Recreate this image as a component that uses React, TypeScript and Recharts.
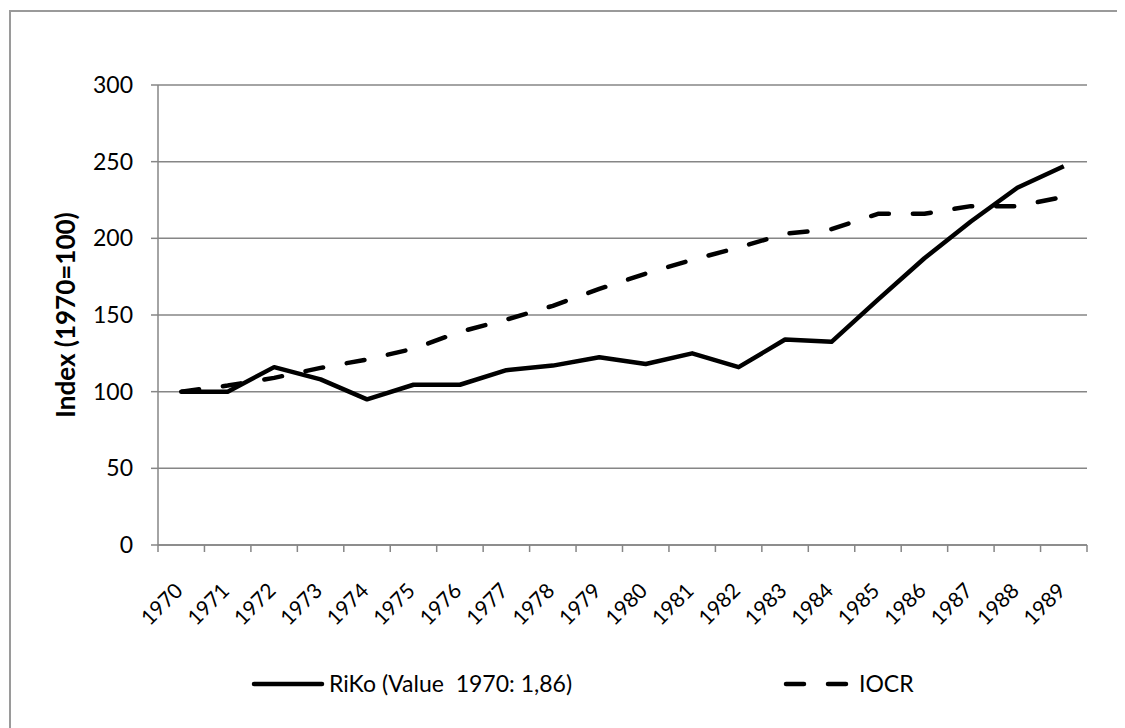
import React from 'react';
import { LineChart, Line, XAxis, YAxis, CartesianGrid, Legend } from 'recharts';

const YEARS = ['1970', '1971', '1972', '1973', '1974', '1975', '1976', '1977', '1978', '1979',
  '1980', '1981', '1982', '1983', '1984', '1985', '1986', '1987', '1988', '1989'];
const RIKO = [100, 100, 116, 108, 95, 104.5, 104.5, 114, 117, 122.5, 118, 125, 116, 134, 132.5, 160, 187, 211, 233, 247];
const IOCR = [100, 104, 109, 115.5, 121, 128, 139, 147, 156, 167, 177, 186, 194, 203, 206, 216, 216, 221, 221, 227];
const Y_TICKS = [0, 50, 100, 150, 200, 250, 300];
const SERIES_NAMES = ['RiKo (Value  1970: 1,86)', 'IOCR'];
const Y_TITLE = 'Index (1970=100)';

const data = YEARS.map((year, i) => ({ year, riko: RIKO[i], iocr: IOCR[i] }));

const W = 1114;
const H = 716;
const MARGIN = { top: 73, right: 38, left: 0, bottom: 93 };
const Y_AXIS_W = 147;
const PLOT_W = W - MARGIN.left - MARGIN.right - Y_AXIS_W;
const BAND = PLOT_W / YEARS.length;
const FONT = 'Lato, "Open Sans", sans-serif';
const GREY = '#868686';

const YearTick = (props: any) => {
  const { x, y, payload, index } = props;
  const last = index === YEARS.length - 1;
  const tx = x + 3;
  const ty = y + 47;
  return (
    <g>
      <line x1={x - BAND / 2} x2={x - BAND / 2} y1={y} y2={y + 7} stroke={GREY} strokeWidth={1.5} />
      {last && <line x1={x + BAND / 2} x2={x + BAND / 2} y1={y} y2={y + 7} stroke={GREY} strokeWidth={1.5} />}
      <text
        x={tx}
        y={ty}
        textAnchor="end"
        transform={`rotate(-45 ${tx} ${ty})`}
        fontFamily={FONT}
        fontSize={21}
        fill="#000"
      >
        {payload.value}
      </text>
    </g>
  );
};

const LegendBox = () => (
  <div style={{ position: 'relative', height: 0, fontFamily: FONT, fontSize: 23, color: '#000' }}>
    <svg style={{ position: 'absolute', left: 239, top: 662 }} width={76} height={20}>
      <line x1={4} x2={72} y1={10} y2={10} stroke="#000" strokeWidth={4.5} strokeLinecap="round" />
    </svg>
    <span style={{ position: 'absolute', left: 318, top: 657, lineHeight: '28px', whiteSpace: 'pre' }}>
      {SERIES_NAMES[0]}
    </span>
    <svg style={{ position: 'absolute', left: 771, top: 662 }} width={70} height={20}>
      <line x1={4} x2={66} y1={10} y2={10} stroke="#000" strokeWidth={4.5} strokeLinecap="round" strokeDasharray="18 24" />
    </svg>
    <span style={{ position: 'absolute', left: 848, top: 657, lineHeight: '28px', whiteSpace: 'pre' }}>
      {SERIES_NAMES[1]}
    </span>
  </div>
);

const App: React.FC = () => {
  return (
    <div style={{ width: 1117, height: 720, overflow: 'hidden' }}>
      <style>{'body { overflow: hidden; }'}</style>
      <div
        style={{
          position: 'relative',
          left: 1,
          top: 2,
          width: W,
          height: H,
          borderTop: '2px solid #9a9a9a',
          borderLeft: '2px solid #9a9a9a',
          background: '#fff',
        }}
      >
        <LineChart width={W} height={H} data={data} margin={MARGIN}>
          <CartesianGrid vertical={false} stroke={GREY} strokeWidth={1.5} />
          <XAxis
            dataKey="year"
            interval={0}
            height={90}
            padding={{ left: BAND / 2, right: BAND / 2 }}
            tickSize={0}
            tickMargin={0}
            tickLine={false}
            axisLine={{ stroke: GREY, strokeWidth: 1.5 }}
            tick={YearTick}
          />
          <YAxis
            domain={[0, 300]}
            ticks={Y_TICKS}
            width={Y_AXIS_W}
            tickSize={7}
            tickMargin={18}
            tickLine={{ stroke: GREY, strokeWidth: 1.5 }}
            axisLine={{ stroke: GREY, strokeWidth: 1.5 }}
            tick={{ fill: '#000', fontSize: 23, fontFamily: FONT }}
            label={{
              value: Y_TITLE,
              angle: -90,
              position: 'insideLeft',
              offset: 0,
              dx: 55,
              style: { textAnchor: 'middle', fontWeight: 700, fontSize: 26, fontFamily: FONT, fill: '#000' },
            }}
          />
          <Legend content={LegendBox} wrapperStyle={{ left: 0, top: 0, width: W, height: 0 }} />
          <Line
            type="linear"
            dataKey="riko"
            name={SERIES_NAMES[0]}
            stroke="#000"
            strokeWidth={4.5}
            strokeLinejoin="round"
            dot={false}
            isAnimationActive={false}
          />
          <Line
            type="linear"
            dataKey="iocr"
            name={SERIES_NAMES[1]}
            stroke="#000"
            strokeWidth={4.5}
            strokeLinejoin="round"
            strokeLinecap="round"
            strokeDasharray="18 24"
            dot={false}
            isAnimationActive={false}
          />
        </LineChart>
      </div>
    </div>
  );
};

export default App;
